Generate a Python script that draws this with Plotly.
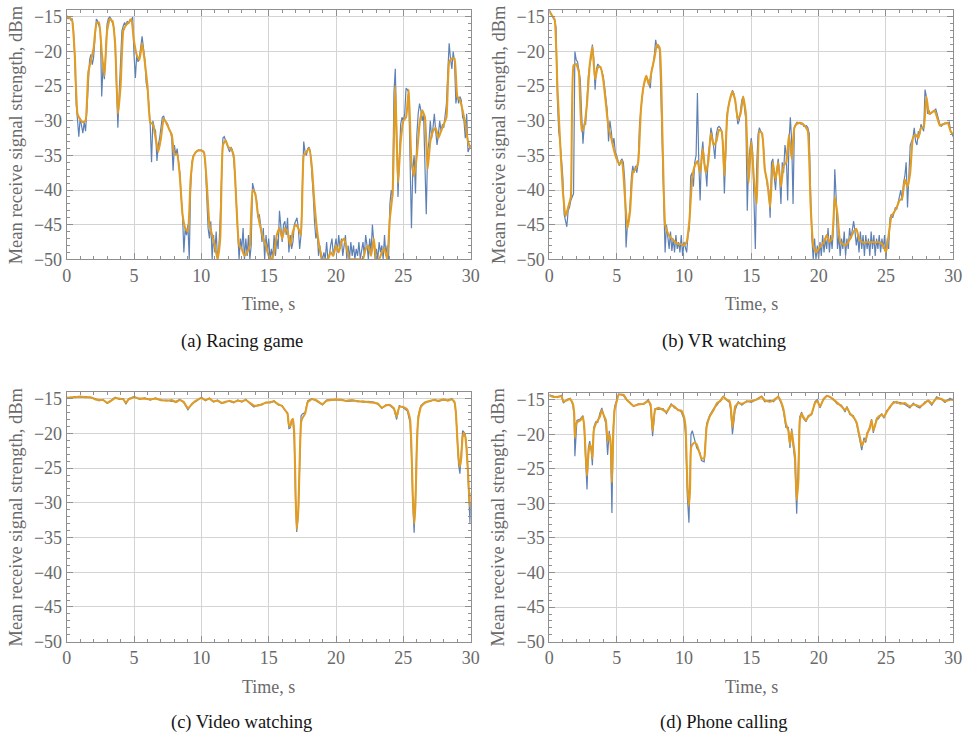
import numpy as np
import plotly.graph_objects as go

# ---------------- data ----------------
# (a) Racing game: raw samples every 0.1 s, smoothed every 0.2 s
t_raw_ab = np.round(np.arange(301) * 0.1, 2)
t_smooth_ab = np.round(np.arange(151) * 0.2, 2)

a_raw = [
    -14.8, -15.3, -14.9, -15.5, -15.2, -16.8, -21.0, -27.5, -29.8, -32.3,
    -29.6, -30.5, -31.8, -30.2, -31.5, -28.5, -23.5, -21.2, -20.4, -21.9,
    -20.8, -17.5, -15.3, -15.6, -16.2, -17.0, -26.5, -22.0, -24.0, -19.0,
    -16.0, -15.2, -15.0, -15.3, -15.8, -16.5, -19.0, -24.5, -31.0, -26.0,
    -22.0, -17.0, -16.3, -15.8, -16.2, -15.6, -16.0, -15.4, -15.6, -15.0,
    -20.5, -23.8, -20.5, -21.5, -20.8, -19.5, -17.8, -19.5, -21.0, -24.5,
    -25.5, -27.5, -30.5, -36.0, -30.0, -31.0, -31.5, -35.8, -33.5, -32.5,
    -31.0, -29.5, -29.3, -30.0, -30.2, -30.5, -31.2, -31.5, -32.5, -37.2,
    -33.5, -35.0, -34.0, -35.5, -37.5, -41.0, -43.5, -49.0, -45.5, -46.5,
    -45.0, -50.0, -40.0, -36.0, -35.0, -34.8, -34.5, -34.3, -34.2, -34.3,
    -34.2, -34.3, -34.5, -36.5, -41.0, -45.5, -47.0, -44.5, -50.0, -46.5,
    -49.0, -46.0, -50.0, -48.5, -44.0, -36.0, -32.5, -32.3, -33.0, -33.5,
    -34.0, -34.5, -33.8, -34.2, -35.5, -38.0, -43.5, -46.0, -50.0, -47.0,
    -48.5, -45.5, -50.0, -47.0, -49.5, -46.5, -50.0, -48.0, -39.0, -40.0,
    -40.5, -41.5, -44.0, -43.5, -45.0, -47.5, -45.5, -50.0, -46.5, -49.0,
    -47.0, -50.0, -48.5, -50.0, -46.5, -49.5, -47.0, -48.5, -43.0, -45.5,
    -47.5, -45.0, -44.5, -46.5, -44.0, -49.0, -46.5, -48.5, -47.5, -45.0,
    -44.5, -44.0, -45.5, -48.5, -46.5, -38.0, -33.0, -34.5, -35.0, -34.0,
    -33.8, -34.5, -37.0, -40.5, -44.5, -47.0, -46.0, -49.5, -48.0, -50.0,
    -50.0, -49.0, -50.0, -47.5, -50.0, -49.5, -48.0, -47.0, -49.5, -48.5,
    -47.0, -49.0, -46.5, -48.5, -47.0, -49.5, -47.5, -46.5, -50.0, -48.0,
    -50.0, -47.5, -49.5, -48.0, -50.0, -48.5, -49.5, -47.5, -50.0, -49.0,
    -47.5, -49.5, -46.5, -48.0, -50.0, -47.0, -49.0, -45.0, -47.5, -50.0,
    -48.5, -50.0, -47.5, -49.0, -48.0, -50.0, -46.5, -49.5, -48.0, -50.0,
    -42.0, -40.0, -41.0, -26.0, -22.5, -33.0, -41.0, -35.5, -30.5, -29.5,
    -30.0, -29.0, -25.3, -25.5, -26.0, -36.0, -45.5, -37.0, -35.0, -40.5,
    -32.0, -29.0, -27.5, -28.5, -30.0, -29.0, -37.0, -43.5, -34.5, -33.0,
    -30.0, -32.5, -31.0, -29.0, -31.5, -33.5, -32.0, -30.0, -31.5, -30.5,
    -31.0, -29.5, -27.5, -23.0, -18.8, -21.0, -22.5, -20.0, -21.5, -27.5,
    -26.0, -27.5, -26.5, -27.0, -29.5, -30.0, -32.5, -29.0, -34.5, -34.0,
    -33.5,
]

a_smooth = [
    -15.0, -15.1, -15.5, -20.5, -29.0, -29.8, -30.2, -30.0, -23.0, -21.3,
    -19.5, -16.0, -15.8, -20.0, -23.5, -17.0, -15.3, -15.6, -19.0, -29.0,
    -25.0, -17.0, -16.2, -15.8, -15.3, -18.5, -20.5, -21.2, -18.8, -21.5,
    -25.0, -30.2, -30.5, -32.5, -34.5, -32.5, -29.7, -30.3, -31.2, -32.0,
    -34.8, -34.8, -38.0, -43.5, -45.5, -46.0, -38.5, -35.2, -34.5, -34.3,
    -34.3, -34.6, -39.0, -45.0, -46.5, -48.0, -50.0, -47.0, -33.5, -32.8,
    -33.8, -34.0, -35.0, -42.0, -48.0, -48.5, -49.5, -49.0, -48.0, -40.0,
    -40.5, -43.5, -45.5, -47.0, -48.0, -49.5, -50.0, -49.0, -46.5, -45.5,
    -47.0, -45.5, -46.0, -48.0, -46.0, -45.0, -45.5, -46.5, -35.0, -34.5,
    -34.0, -36.5, -42.0, -46.0, -48.5, -50.0, -50.0, -50.0, -49.0, -49.5,
    -48.0, -49.0, -47.5, -47.0, -48.5, -50.0, -50.0, -50.0, -50.0, -50.0,
    -50.0, -48.5, -48.0, -49.5, -47.0, -50.0, -50.0, -49.0, -48.5, -50.0,
    -44.0, -40.5, -25.0, -39.0, -33.0, -30.0, -29.5, -25.5, -36.0, -38.0,
    -35.0, -30.5, -28.5, -29.5, -37.0, -33.0, -31.5, -31.0, -32.5, -31.5,
    -30.5, -29.5, -21.5, -21.0, -21.0, -26.5, -27.0, -28.5, -30.5, -33.0,
    -34.0,
]

# (b) VR watching
b_raw = [
    -14.0, -14.5, -14.8, -15.2, -15.5, -16.5, -27.0, -31.5, -33.0, -35.0,
    -38.0, -43.5, -44.5, -45.3, -43.0, -42.5, -41.5, -41.0, -40.5, -20.0,
    -21.2, -21.5, -22.5, -24.0, -29.0, -33.3, -30.5, -30.5, -27.0, -23.5,
    -22.0, -21.0, -19.0, -21.0, -25.5, -22.5, -21.8, -22.0, -22.3, -22.8,
    -23.5, -25.0, -26.5, -28.5, -33.0, -30.0, -31.5, -33.5, -32.5, -34.5,
    -35.0, -36.0, -36.5, -35.8, -35.5, -36.0, -38.5, -48.3, -45.0, -44.5,
    -42.0, -38.0, -36.5, -37.5, -36.5, -37.5, -36.0, -30.5, -28.0, -26.5,
    -25.0, -24.0, -23.5, -24.0, -24.8, -25.3, -22.5, -22.0, -20.5, -18.3,
    -19.5, -19.0, -20.0, -28.0, -36.0, -44.5, -49.0, -45.0, -46.5, -48.5,
    -46.0, -48.8, -47.0, -49.0, -46.5, -48.5, -47.5, -49.0, -46.5, -49.5,
    -47.5, -48.5, -49.0, -46.5, -45.5, -38.0, -37.5, -39.5, -36.0, -35.0,
    -26.0, -36.0, -41.5, -35.0, -33.0, -36.0, -37.0, -39.5, -35.0, -33.5,
    -31.0, -32.0, -34.0, -35.5, -32.0, -31.0, -30.8, -31.0, -31.5, -33.5,
    -40.5, -33.0, -29.0, -28.0, -27.0, -26.2, -25.6, -26.0, -27.0, -28.5,
    -30.5, -30.0, -28.5, -27.0, -26.5, -28.0, -30.0, -43.0, -36.0, -34.0,
    -32.5, -34.5, -40.0, -48.5, -36.5, -32.0, -31.0, -31.5, -32.0, -33.5,
    -37.0, -38.0, -39.5, -40.0, -44.0, -36.0, -35.5, -38.0, -40.0, -37.0,
    -35.5, -38.0, -42.0, -36.0, -37.5, -33.5, -35.0, -41.5, -33.0, -29.5,
    -33.0, -42.0, -31.0, -30.5, -30.2, -30.4, -30.3, -30.5, -30.4, -30.8,
    -30.8, -30.7, -31.0, -31.8, -40.0, -47.0, -50.0, -47.0, -50.0, -48.0,
    -50.0, -47.5, -49.5, -46.5, -49.0, -47.0, -48.5, -45.5, -49.0, -46.5,
    -48.5, -45.5, -37.0, -41.0, -48.5, -46.5, -49.5, -47.0, -48.5, -46.0,
    -49.5, -47.0, -48.5, -45.5, -47.0, -46.0, -44.5, -46.0, -48.0, -46.5,
    -49.0, -46.0, -48.5, -46.5, -49.5, -46.5, -48.5, -47.0, -49.5, -46.0,
    -48.5, -46.5, -49.5, -47.0, -48.5, -46.5, -49.0, -47.0, -48.5, -46.5,
    -50.0, -47.0, -48.5, -44.0, -43.5, -44.0, -43.0, -42.5, -42.8, -42.0,
    -41.0, -40.0, -41.5, -39.0, -38.0, -36.0, -42.5, -38.0, -33.5, -33.0,
    -32.5, -31.0, -33.0, -33.5, -31.5, -32.0, -30.5, -31.0, -31.5, -25.5,
    -26.5, -29.0, -28.5, -29.0, -28.8, -28.6, -28.5, -28.3, -29.0, -29.8,
    -30.5, -30.8, -30.5, -30.4, -30.3, -30.4, -30.3, -30.2, -31.5, -32.0,
    -32.3,
]

b_smooth = [
    -14.2, -14.8, -15.4, -25.0, -33.0, -40.0, -43.8, -42.5, -41.0, -22.0,
    -21.8, -23.0, -31.5, -30.7, -27.5, -22.0, -19.3, -24.0, -22.3, -22.2,
    -24.0, -27.5, -31.0, -32.5, -34.2, -35.5, -36.3, -35.8, -40.5, -45.5,
    -43.0, -37.5, -37.0, -36.0, -28.5, -25.0, -23.5, -24.8, -22.8, -21.0,
    -19.0, -19.5, -32.0, -45.0, -46.2, -46.8, -47.2, -47.6, -47.8, -47.8,
    -48.0, -47.5, -44.5, -38.5, -36.5, -35.8, -37.5, -34.0, -37.5, -36.0,
    -31.8, -33.5, -33.0, -31.3, -31.5, -38.0, -29.5, -27.0, -25.8, -27.0,
    -29.8, -29.0, -26.5, -29.0, -39.0, -33.0, -38.5, -42.0, -31.5, -31.8,
    -37.0, -39.0, -42.5, -36.0, -38.5, -36.0, -39.5, -36.5, -36.0, -32.0,
    -35.5, -31.0, -30.4, -30.3, -30.4, -30.8, -31.5, -42.0, -48.0, -49.0,
    -48.5, -48.0, -47.5, -46.5, -47.5, -47.0, -41.0, -43.5, -47.5, -47.8,
    -48.0, -47.5, -46.8, -46.0, -45.6, -47.0, -47.5, -47.6, -47.5, -47.6,
    -47.5, -47.6, -47.5, -47.6, -48.0, -49.0, -46.5, -43.8, -43.2, -42.5,
    -41.5, -41.2, -38.5, -39.5, -37.5, -32.5, -32.0, -32.5, -31.0, -31.0,
    -26.5, -29.0, -28.8, -28.5, -29.5, -30.7, -30.5, -30.4, -30.3, -31.5,
    -32.0,
]

# (c) Video watching
t_c = [0.0, 0.3, 0.6, 1.0, 1.4, 1.8, 2.1, 2.4, 2.7, 3.0, 3.3, 3.6, 3.9, 4.2, 4.4, 4.6,
       5.0, 5.4, 5.8, 6.2, 6.6, 7.0, 7.4, 7.8, 8.1, 8.4, 8.7, 9.0, 9.3, 9.6, 10.0,
       10.3, 10.6, 10.9, 11.2, 11.5, 11.8, 12.1, 12.4, 12.7, 13.0, 13.3, 13.6, 13.9,
       14.2, 14.5, 14.8, 15.1, 15.4, 15.7, 16.0, 16.2, 16.4, 16.5, 16.6, 16.7, 16.8,
       16.9, 17.0, 17.08, 17.2, 17.3, 17.4, 17.5, 17.7, 17.9, 18.2, 18.5, 18.8, 19.0,
       19.3, 19.6, 20.0, 20.4, 20.8, 21.2, 21.6, 22.0, 22.4, 22.8, 23.1, 23.4, 23.7,
       24.0, 24.3, 24.5, 24.7, 25.0, 25.3, 25.5, 25.6, 25.7, 25.8, 25.9, 26.0, 26.1,
       26.3, 26.6, 27.0, 27.3, 27.6, 28.0, 28.3, 28.6, 28.8, 28.9, 29.0, 29.1, 29.2,
       29.3, 29.4, 29.5, 29.6, 29.7, 29.8, 29.9, 29.95, 30.0]
c_smooth = [-14.9, -14.8, -14.8, -14.7, -14.8, -14.8, -15.1, -15.2, -15.2, -15.6, -15.3,
            -14.9, -15.0, -15.1, -15.6, -15.1, -14.8, -15.0, -15.0, -15.1, -15.0, -15.2,
            -15.3, -15.2, -15.5, -15.2, -15.5, -16.4, -15.8, -15.3, -14.9, -15.2, -15.0,
            -15.4, -15.3, -15.6, -15.5, -15.3, -15.5, -15.3, -15.4, -15.2, -15.6, -16.0,
            -16.0, -15.8, -15.6, -15.5, -15.4, -15.8, -16.1, -16.6, -17.2, -18.8, -19.0,
            -18.2, -17.9, -20.0, -29.0, -33.8, -31.0, -24.0, -18.5, -17.8, -17.2, -15.5,
            -15.1, -15.2, -15.6, -15.8, -15.3, -15.2, -15.1, -15.2, -15.3, -15.2, -15.4,
            -15.4, -15.5, -15.6, -15.7, -16.3, -16.0, -15.9, -16.4, -17.6, -16.2, -16.2,
            -16.6, -18.0, -22.0, -29.0, -33.0, -30.0, -22.0, -18.0, -16.2, -15.6, -15.3,
            -15.2, -15.3, -15.1, -15.3, -15.1, -15.5, -17.0, -20.5, -23.5, -24.8, -23.5,
            -20.5, -20.0, -20.5, -22.5, -25.5, -29.5, -30.5, -28.5]
c_raw = [-14.8, -14.9, -14.7, -14.8, -14.7, -14.9, -15.0, -15.3, -15.1, -15.7, -15.2,
         -14.8, -15.1, -15.0, -15.8, -15.0, -14.7, -15.1, -14.9, -15.2, -14.9, -15.3,
         -15.2, -15.4, -15.4, -15.1, -15.6, -16.6, -15.7, -15.4, -14.8, -15.3, -14.9,
         -15.5, -15.2, -15.7, -15.4, -15.4, -15.6, -15.2, -15.5, -15.1, -15.7, -16.2,
         -15.9, -15.9, -15.5, -15.6, -15.3, -15.9, -16.0, -16.7, -17.0, -19.3, -19.2,
         -18.0, -18.3, -21.0, -30.0, -34.2, -31.5, -23.0, -17.5, -17.2, -17.0, -15.3,
         -15.0, -15.3, -15.7, -15.9, -15.2, -15.1, -15.2, -15.1, -15.4, -15.3, -15.3,
         -15.5, -15.4, -15.5, -15.8, -16.4, -15.9, -16.0, -16.5, -18.0, -16.0, -16.3,
         -16.8, -18.5, -23.0, -30.0, -34.3, -29.0, -21.0, -17.5, -16.0, -15.5, -15.4,
         -15.1, -15.4, -15.2, -15.2, -15.0, -15.6, -17.0, -21.0, -24.5, -25.8, -23.0,
         -19.6, -19.8, -20.2, -22.0, -27.0, -31.0, -33.0, -30.0]

# (d) Phone calling
t_d = [0.0, 0.3, 0.6, 0.9, 1.05, 1.3, 1.55, 1.75, 1.85, 1.9, 1.95, 2.05, 2.3, 2.5, 2.6,
       2.7, 2.8, 2.9, 3.0, 3.12, 3.2, 3.3, 3.45, 3.6, 3.75, 3.9, 4.05, 4.2, 4.33, 4.45,
       4.55, 4.65, 4.75, 4.85, 5.0, 5.15, 5.5, 5.75, 6.0, 6.25, 6.6, 7.0, 7.35, 7.52,
       7.67, 7.85, 8.1, 8.45, 8.7, 9.05, 9.3, 9.55, 9.8, 10.0, 10.12, 10.25, 10.37,
       10.45, 10.52, 10.62, 10.8, 10.95, 11.2, 11.3, 11.5, 11.56, 11.68, 11.9, 12.2,
       12.45, 12.7, 12.92, 13.17, 13.37, 13.47, 13.6, 13.8, 14.03, 14.3, 14.65, 15.0,
       15.4, 15.77, 16.0, 16.4, 16.65, 17.0, 17.25, 17.4, 17.57, 17.75, 17.87, 18.0,
       18.1, 18.24, 18.37, 18.5, 18.6, 18.74, 18.86, 19.06, 19.23, 19.48, 19.73, 19.9,
       20.1, 20.35, 20.6, 20.85, 21.1, 21.35, 21.7, 21.96, 22.1, 22.33, 22.57, 22.82,
       22.95, 23.07, 23.2, 23.37, 23.5, 23.6, 23.8, 23.93, 24.06, 24.3, 24.43, 24.68,
       24.85, 25.05, 25.3, 25.55, 25.8, 26.04, 26.4, 26.78, 27.03, 27.28, 27.52, 27.9,
       28.14, 28.4, 28.76, 29.13, 29.38, 29.75, 30.0]
d_smooth = [-14.4, -14.6, -14.6, -14.5, -15.3, -15.1, -14.9, -15.6, -17.0, -20.5, -19.0,
            -18.3, -18.0, -17.5, -19.0, -23.0, -26.0, -23.0, -21.5, -22.0, -23.5, -19.5,
            -18.5, -18.0, -17.5, -16.5, -17.3, -18.0, -21.0, -20.0, -21.0, -27.0, -20.0,
            -16.5, -15.3, -14.3, -14.3, -15.0, -15.5, -15.9, -15.7, -15.6, -15.2, -15.7,
            -19.5, -16.5, -16.2, -16.5, -16.8, -15.8, -16.0, -16.5, -16.6, -17.5, -19.0,
            -27.0, -30.3, -28.0, -22.0, -21.5, -21.2, -21.5, -23.0, -23.5, -23.5, -22.5,
            -19.0, -17.5, -16.5, -15.5, -15.2, -14.6, -15.0, -15.2, -16.0, -19.0, -16.0,
            -15.5, -15.6, -15.3, -15.2, -15.0, -14.6, -15.1, -15.3, -15.1, -14.6, -15.5,
            -16.5, -18.5, -19.5, -21.5, -19.5, -21.0, -23.0, -29.5, -26.5, -18.0, -17.0,
            -17.5, -18.0, -17.5, -17.0, -15.5, -15.2, -16.0, -15.0, -14.5, -14.6, -15.0,
            -15.4, -16.0, -16.5, -16.2, -17.0, -17.5, -18.3, -19.5, -20.5, -21.7, -21.0,
            -20.8, -20.0, -19.0, -18.0, -19.5, -18.0, -17.5, -17.2, -17.5, -16.8, -16.0,
            -15.5, -15.3, -15.6, -15.5, -16.0, -15.7, -15.8, -16.0, -15.5, -15.1, -15.6,
            -14.8, -14.9, -15.2, -15.0, -15.0]
d_raw = [-14.3, -14.5, -14.7, -14.4, -15.5, -15.0, -14.8, -15.8, -17.5, -23.2, -21.0,
         -18.0, -17.8, -17.3, -19.5, -24.5, -28.0, -22.0, -21.0, -22.5, -24.5, -19.0,
         -18.2, -18.3, -17.0, -16.2, -17.6, -18.5, -23.0, -19.5, -21.5, -31.4, -19.0,
         -16.0, -15.1, -14.2, -14.4, -15.1, -15.4, -16.0, -15.6, -15.7, -15.0, -16.0,
         -20.3, -16.3, -16.4, -16.3, -17.0, -15.6, -16.2, -16.4, -16.8, -17.8, -20.0,
         -29.0, -32.8, -27.0, -20.0, -19.5, -20.8, -22.0, -22.7, -23.8, -24.0, -22.0,
         -18.5, -17.3, -16.3, -15.8, -15.0, -14.5, -15.1, -15.4, -16.5, -20.0, -16.5,
         -15.3, -15.8, -15.2, -15.4, -14.9, -14.5, -15.3, -15.1, -15.3, -14.5, -15.7,
         -16.8, -19.0, -19.0, -22.0, -19.2, -21.5, -24.0, -31.5, -25.0, -17.5, -16.8,
         -17.7, -18.2, -17.3, -17.2, -15.3, -15.0, -16.2, -14.9, -14.4, -14.7, -14.9,
         -15.6, -15.8, -16.8, -16.0, -17.2, -17.3, -18.5, -19.8, -21.0, -22.3, -20.5,
         -21.2, -19.8, -19.3, -17.8, -19.8, -17.7, -17.8, -17.0, -17.7, -16.6, -16.2,
         -15.3, -15.5, -15.4, -15.7, -16.2, -15.5, -16.0, -16.2, -15.3, -15.2, -15.8,
         -14.6, -15.0, -15.4, -14.8, -15.1]

panels = [
    ("(a) Racing game", t_raw_ab, a_raw, t_smooth_ab, a_smooth),
    ("(b) VR watching", t_raw_ab, b_raw, t_smooth_ab, b_smooth),
    ("(c) Video watching", t_c, c_raw, t_c, c_smooth),
    ("(d) Phone calling", t_d, d_raw, t_d, d_smooth),
]

x_ticks = [0, 5, 10, 15, 20, 25, 30]
y_ticks = [-50, -45, -40, -35, -30, -25, -20, -15]

# ---------------- figure ----------------
W, H = 967, 736
BLUE = "#5E81B5"
ORANGE = "#E19C24"
FRAME = "#8f8f8f"
GRID = "#d4d4d4"
LABEL = "#6a6a6a"
SERIF = "Liberation Serif"

# plot-area boxes in pixels (left, right, top, bottom)
boxes = [
    (66.7, 470.7, 10.0, 259.3),
    (549.3, 953.3, 10.0, 259.3),
    (66.7, 470.7, 391.7, 641.7),
    (549.3, 953.3, 392.7, 641.7),
]


def px(x):
    return x / W


def py(y):
    return 1 - y / H


fig = go.Figure()
layout = dict(
    width=W, height=H, margin=dict(l=0, r=0, t=0, b=0, autoexpand=False),
    paper_bgcolor="white", plot_bgcolor="white", showlegend=False,
    font=dict(family=SERIF, size=18, color=LABEL),
)
annotations = []

for i, (cap, tr, vr, ts, vs) in enumerate(panels):
    k = "" if i == 0 else str(i + 1)
    L, R, T, B = boxes[i]
    fig.add_trace(go.Scatter(x=tr, y=vr, mode="lines", xaxis="x" + k, yaxis="y" + k,
                             line=dict(color=BLUE, width=1.2)))
    fig.add_trace(go.Scatter(x=ts, y=vs, mode="lines", xaxis="x" + k, yaxis="y" + k,
                             line=dict(color=ORANGE, width=2.1, shape="spline", smoothing=0.4)))
    common = dict(ticks="inside", ticklen=6, tickcolor=FRAME, tickwidth=1,
                  showline=True, linecolor=FRAME, linewidth=1, mirror="ticks",
                  showgrid=True, gridcolor=GRID, gridwidth=1, zeroline=False,
                  tickfont=dict(family=SERIF, size=18, color=LABEL),
                  minor=dict(ticks="inside", ticklen=3, dtick=1, tickcolor=FRAME,
                             showgrid=False))
    layout["xaxis" + k] = dict(domain=[px(L), px(R)], anchor="y" + k, range=[0, 30],
                               tickvals=x_ticks, **common)
    layout["yaxis" + k] = dict(domain=[py(B), py(T)], anchor="x" + k, range=[-50, -14],
                               tickvals=y_ticks, **common)
    # axis titles
    annotations.append(dict(text="Time, s", x=px((L + R) / 2), y=py(B + 45),
                            xref="paper", yref="paper", showarrow=False,
                            font=dict(family=SERIF, size=18, color=LABEL),
                            xanchor="center", yanchor="middle"))
    annotations.append(dict(text="Mean receive signal strength, dBm",
                            x=px(L - 51), y=py((T + B) / 2),
                            xref="paper", yref="paper", showarrow=False, textangle=-90,
                            font=dict(family=SERIF, size=18.5, color=LABEL),
                            xanchor="center", yanchor="middle"))
    # caption
    cx = 241.5 if i % 2 == 0 else 723.5
    cy = 341.5 if i < 2 else 722
    annotations.append(dict(text=cap, x=px(cx), y=py(cy), xref="paper", yref="paper",
                            showarrow=False, font=dict(family=SERIF, size=18.5, color="#141414"),
                            xanchor="center", yanchor="middle"))

layout["annotations"] = annotations
fig.update_layout(**layout)
# remove the default 8px page margin so the figure fills the 967x736 window
fig.write_html("out.html",
               config={"displayModeBar": False},
               post_script="document.body.style.margin='0px';"
                           "document.body.style.overflow='hidden';")
